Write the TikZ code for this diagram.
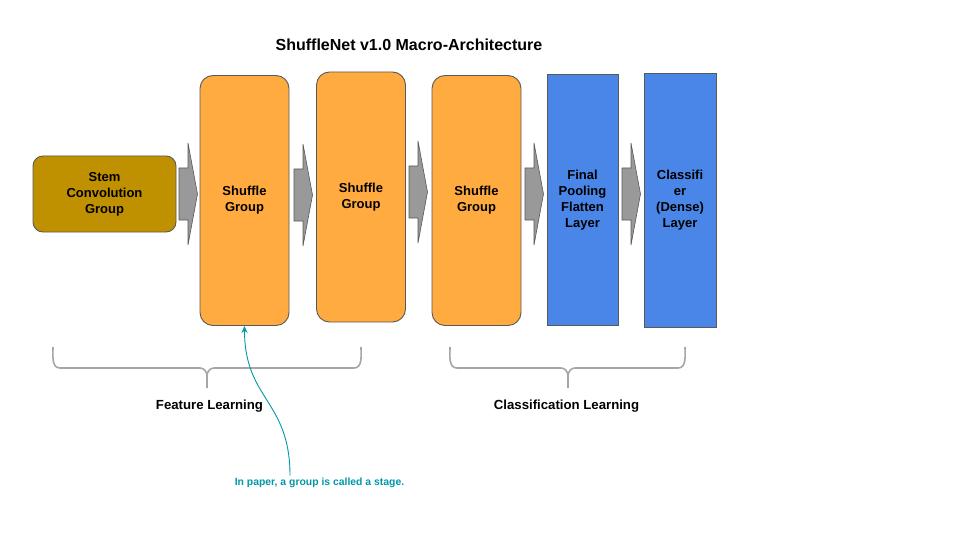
\documentclass[tikz,border=0pt]{standalone}
\usepackage{fontspec}
\setmainfont{Liberation Sans}
\usepackage{tikz}
\usetikzlibrary{arrows.meta}

\definecolor{stemgold}{HTML}{BF9000}
\definecolor{grouporange}{HTML}{FFAB40}
\definecolor{layerblue}{HTML}{4A86E8}
\definecolor{edgegray}{HTML}{595959}
\definecolor{bracegray}{HTML}{A6A6A6}
\definecolor{noteteal}{HTML}{0097A7}

\begin{document}
\begin{tikzpicture}[x=1pt, y=-1pt,
    box/.style={draw=edgegray, line width=0.9pt, align=center, inner sep=0pt,
        font=\fontsize{13}{16}\selectfont\bfseries},
    group/.style={box, fill=grouporange, rounded corners=13pt, minimum width=89pt, minimum height=250pt},
    layer/.style={box, fill=layerblue, minimum width=71pt, minimum height=251pt},
    blockarrow/.style={draw=edgegray, fill=gray!80!white, line width=0.6pt},
    brace/.style={draw=bracegray, line width=1.6pt},
    note/.style={noteteal, line width=0.9pt}]
    \useasboundingbox (0, 0) rectangle (960, 540);

    \node[font=\fontsize{16}{19}\selectfont\bfseries] (title) at (409, 45) {ShuffleNet v1.0 Macro-Architecture};

    \node[box, fill=stemgold, rounded corners=10pt, minimum width=143pt, minimum height=76pt] (stem) at (104.5, 194) {Stem\\Convolution\\Group};
    \node[group] (sg1) at (244.5, 200.5) {Shuffle\\Group};
    \node[group] (sg2) at (361, 197) {Shuffle\\Group};
    \node[group] (sg3) at (476.5, 200.5) {Shuffle\\Group};
    \node[layer] (pool) at (582.5, 200) {Final\\Pooling\\Flatten\\Layer};
    \node[layer, minimum width=72pt, minimum height=254pt] (cls) at (680, 200) {Classifi\\er\\(Dense)\\Layer};

    \foreach \x/\y in {179/194, 294/195, 409/192, 525/194, 622/194}
        \draw[blockarrow] (\x, \y-26) -- (\x+9, \y-26) -- (\x+9, \y-51) -- (\x+18.5, \y)
            -- (\x+9, \y+51) -- (\x+9, \y+26) -- (\x, \y+26) -- cycle;

    \draw[brace] (53, 347) to[out=-90, in=180] (60, 368) -- (200, 368) to[out=0, in=90] (207, 376) -- (207, 388);
    \draw[brace] (207, 376) to[out=90, in=180] (214, 368) -- (354, 368) to[out=0, in=-90] (361, 347);
    \draw[brace] (450, 347) to[out=-90, in=180] (457, 368) -- (561, 368) to[out=0, in=90] (568, 376) -- (568, 388);
    \draw[brace] (568, 376) to[out=90, in=180] (575, 368) -- (678, 368) to[out=0, in=-90] (685, 347);

    \node[font=\fontsize{13.2}{16}\selectfont\bfseries] (featlbl) at (209.5, 406) {Feature Learning};
    \node[font=\fontsize{13.2}{16}\selectfont\bfseries] (clslbl) at (566.5, 406) {Classification Learning};

    \node[text=noteteal, font=\fontsize{10.4}{12}\selectfont\bfseries] (notelbl) at (319.5, 483) {In paper, a group is called a stage.};
    \draw[note, -{Stealth[length=7pt, width=6pt]}] ([xshift=-29.5pt, yshift=-1pt]notelbl.north)
        .. controls (290, 400) and (244.5, 400) .. (sg1.south);
\end{tikzpicture}
\end{document}
